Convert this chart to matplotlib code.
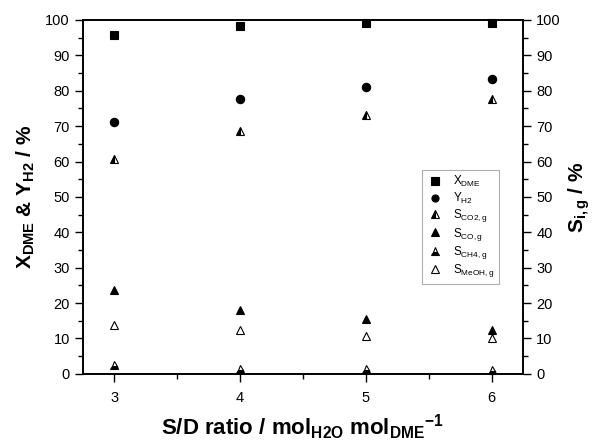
import numpy as np
import matplotlib.pyplot as plt
from matplotlib.ticker import MultipleLocator

plt.rcParams['font.family'] = ['Liberation Sans', 'DejaVu Sans']
plt.rcParams['mathtext.fontset'] = 'custom'
plt.rcParams['mathtext.rm'] = 'Liberation Sans'
plt.rcParams['mathtext.bf'] = 'Liberation Sans:bold'
plt.rcParams['mathtext.it'] = 'Liberation Sans:italic'

# ============================================
# DATA
# ============================================

sd_ratio = [3, 4, 5, 6]

x_dme = [95.7, 98.4, 99.1, 99.1]
y_h2 = [71.1, 77.8, 81.0, 83.4]
s_co2 = [60.6, 68.7, 73.1, 77.6]
s_co = [23.6, 18.1, 15.5, 12.4]
s_ch4 = [2.6, 1.5, 1.4, 1.1]
s_meoh = [13.8, 12.4, 10.8, 10.0]

# ============================================
# PLOT
# ============================================

fig = plt.figure(figsize=(5.95, 4.44), dpi=100)
ax = fig.add_axes([0.1395, 0.158, 0.7395, 0.797])
ax2 = ax.twinx()

ms = 6
common = dict(linestyle='none', color='black', markersize=ms,
              markeredgewidth=0.8, markerfacecoloralt='white', clip_on=False)

ax.plot(sd_ratio, x_dme, marker='s', label=r'$\mathregular{X_{DME}}$', **common)
ax.plot(sd_ratio, y_h2, marker='o', label=r'$\mathregular{Y_{H2}}$', **common)
ax.plot(sd_ratio, s_co2, marker='^', fillstyle='left',
        label=r'$\mathregular{S_{CO2,g}}$', **common)
ax.plot(sd_ratio, s_co, marker='^', label=r'$\mathregular{S_{CO,g}}$', **common)
ax.plot(sd_ratio, s_ch4, marker='^', fillstyle='bottom',
        label=r'$\mathregular{S_{CH4,g}}$', **common)
ax.plot(sd_ratio, s_meoh, marker='^', markerfacecolor='white',
        label=r'$\mathregular{S_{MeOH,g}}$',
        **{k: v for k, v in common.items() if k != 'markerfacecoloralt'})

for a in (ax, ax2):
    a.set_ylim(0, 100)
    a.yaxis.set_major_locator(MultipleLocator(10))
    a.yaxis.set_minor_locator(MultipleLocator(5))
    a.tick_params(axis='y', which='major', length=6, width=1, labelsize=10.5)
    a.tick_params(axis='y', which='minor', length=3.5, width=1)
    for sp in a.spines.values():
        sp.set_linewidth(1.2)

ax.set_xlim(2.75, 6.25)
ax.xaxis.set_major_locator(MultipleLocator(1))
ax.xaxis.set_minor_locator(MultipleLocator(0.5))
ax.tick_params(axis='x', which='major', length=6, width=1, labelsize=10.5, pad=6)
ax.tick_params(axis='x', which='minor', length=3.5, width=1)

ax.set_xlabel(r'S/D ratio / mol$\mathbf{_{H2O}}$ mol$\mathbf{_{DME}}$$\mathbf{^{-1}}$',
              fontsize=16, fontweight='bold', labelpad=6)
ax.set_ylabel(r'X$\mathbf{_{DME}}$ & Y$\mathbf{_{H2}}$ / %',
              fontsize=15, fontweight='bold', labelpad=6)
ax2.set_ylabel(r'S$\mathbf{_{i,g}}$ / %', fontsize=15, fontweight='bold',
               labelpad=4)

leg = ax.legend(loc='upper left', bbox_to_anchor=(0.77, 0.576), fontsize=8.5,
                frameon=True, fancybox=False, edgecolor='#999999',
                handlelength=1.5, handletextpad=0.8, borderpad=0.35,
                labelspacing=0.12, borderaxespad=0, numpoints=1,
                markerscale=0.85)
leg.get_frame().set_linewidth(0.8)

plt.savefig('out.png', dpi=100)
